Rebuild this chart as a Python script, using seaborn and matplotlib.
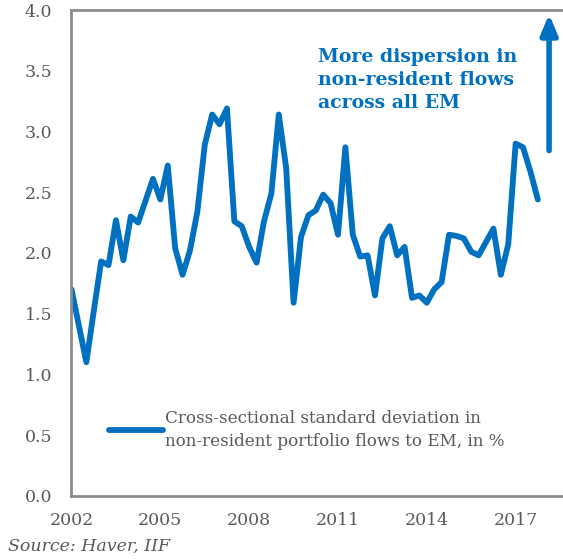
import matplotlib
matplotlib.use("Agg")
import matplotlib.pyplot as plt
import seaborn as sns
import pandas as pd
import numpy as np

# quarterly values, 2002Q1 - 2017Q4
dispersion = [1.70, 1.40, 1.10, 1.52, 1.93, 1.90, 2.27, 1.94, 2.30, 2.25,
              2.43, 2.61, 2.44, 2.72, 2.04, 1.82, 2.02, 2.34, 2.89, 3.14,
              3.06, 3.19, 2.26, 2.22, 2.05, 1.92, 2.26, 2.49, 3.14, 2.70,
              1.59, 2.13, 2.31, 2.35, 2.48, 2.41, 2.15, 2.87, 2.15, 1.97,
              1.98, 1.65, 2.12, 2.22, 1.98, 2.05, 1.63, 1.65, 1.59, 1.70,
              1.76, 2.15, 2.14, 2.12, 2.01, 1.98, 2.09, 2.20, 1.82, 2.07,
              2.90, 2.87, 2.67, 2.44]
start_year = 2002
tick_years = [2002, 2005, 2008, 2011, 2014, 2017]
y_ticks = [0.0, 0.5, 1.0, 1.5, 2.0, 2.5, 3.0, 3.5, 4.0]
series_label = "Cross-sectional standard deviation in\nnon-resident portfolio flows to EM, in %"
note_text = "More dispersion in\nnon-resident flows\nacross all EM"

df = pd.DataFrame({
    "year": start_year + np.arange(len(dispersion)) / 4,
    "value": dispersion,
})

blue = "#0070C0"
grey = "#595959"
serif = ["DejaVu Serif"]

sns.set_style("white")
plt.rcParams["font.family"] = serif

fig = plt.figure(figsize=(5.63, 5.59), dpi=100)
ax = fig.add_axes([0.126, 0.113, 0.874, 0.869])

sns.lineplot(data=df, x="year", y="value", color=blue, linewidth=4.2,
             label=series_label, ax=ax)

ax.set_xlim(2001.98, 2018.6)
ax.set_ylim(0, 4.0)
ax.set_xticks(tick_years)
ax.set_xticklabels([str(y) for y in tick_years])
ax.set_yticks(y_ticks)
ax.set_yticklabels([f"{v:.1f}" for v in y_ticks])
ax.set_xlabel("")
ax.set_ylabel("")
ax.tick_params(axis="both", length=0, labelsize=12.5, colors=grey)
ax.tick_params(axis="y", pad=13.5)
ax.tick_params(axis="x", pad=12)

for side in ["left", "bottom", "top"]:
    ax.spines[side].set_color("#8c8c8c")
    ax.spines[side].set_linewidth(2)
ax.spines["right"].set_visible(False)

leg = ax.legend(loc="upper left", bbox_to_anchor=(0.077, 0.177), frameon=False,
                fontsize=12.1, handlelength=3.2, handletextpad=0.17,
                borderpad=0, borderaxespad=0, labelcolor=grey)
for t in leg.get_texts():
    t.set_linespacing(1.45)

ax.text(0.502, 0.922, note_text, transform=ax.transAxes, ha="left", va="top",
        color=blue, fontsize=13.6, fontweight="bold", linespacing=1.36)

ax.annotate("", xy=(2018.13, 3.99), xytext=(2018.13, 2.82),
            arrowprops=dict(arrowstyle="-|>,head_width=0.5,head_length=1.2",
                            color=blue, lw=4),
            annotation_clip=False)

fig.text(0.014, 0.008, "Source: Haver, IIF", color=grey, fontsize=12.5,
         style="italic", ha="left", va="bottom")

fig.savefig("out.png", dpi=100)
